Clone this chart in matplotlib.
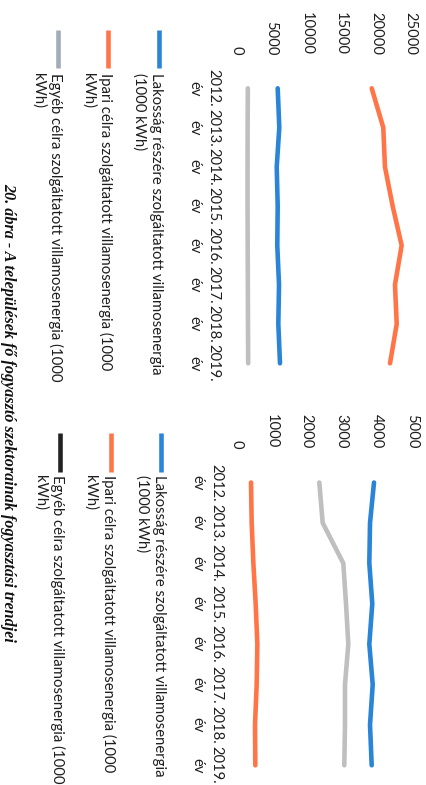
import matplotlib
matplotlib.use("Agg")
import matplotlib.pyplot as plt
from matplotlib.lines import Line2D

years = ["2012.", "2013.", "2014.", "2015.", "2016.", "2017.", "2018.", "2019."]

# települések összesen (1000 kWh)
lakossag_1 = [5890, 6120, 5750, 5890, 5830, 6080, 5980, 6220]
ipari_1 = [19400, 21060, 21300, 22410, 23700, 22740, 22990, 22030]
egyeb_1 = [1600, 1570, 1560, 1560, 1580, 1600, 1620, 1650]

# második település (1000 kWh)
lakossag_2 = [3923, 3809, 3789, 3874, 3789, 3886, 3809, 3857]
ipari_2 = [409, 428, 476, 542, 590, 571, 523, 532]
egyeb_2 = [2360, 2457, 3046, 3123, 3189, 3094, 3094, 3074]

legend_labels = [
    "Lakosság részére szolgáltatott villamosenergia\n(1000 kWh)",
    "Ipari célra szolgáltatott villamosenergia (1000\nkWh)",
    "Egyéb célra szolgáltatott villamosenergia (1000\nkWh)",
]
caption = "20. ábra - A települések fő fogyasztó szektorainak fogyasztási trendjei"

BLUE = "#2a84d8"
ORANGE = "#ff7548"
GRAY = "#bfbfbf"
TEXT = "#1e1e1e"
W, H = 427, 785
LW = 3.3
TICK_FS = 10.6

fig = plt.figure(figsize=(W / 100, H / 100), dpi=100)


def fx(px):
    return px / W


def fy(py):
    return 1 - py / H


def rotated_chart(rect_px, vmax, step, series, tick_pad, year_pad):
    # the chart is drawn turned a quarter clockwise: values run left to right,
    # years run top to bottom, every text reads downwards
    x0, x1, y0, y1 = rect_px
    ax = fig.add_axes([fx(x0), fy(y1), fx(x1) - fx(x0), fy(y0) - fy(y1)])
    idx = list(range(len(years)))
    for values, color in series:
        ax.plot(values, idx, color=color, lw=LW, solid_capstyle="round",
                solid_joinstyle="round", clip_on=False)
    ax.set_xlim(0, vmax)
    ax.set_ylim(len(years) - 0.5, -0.5)
    ax.set_xticks(range(0, vmax + 1, step))
    ax.xaxis.set_ticks_position("top")
    ax.tick_params(axis="x", length=0, labelrotation=270, pad=tick_pad,
                   labelsize=TICK_FS, labelcolor=TEXT)
    ax.set_yticks(idx)
    ax.set_yticklabels([f"{y}\név" for y in years])
    ax.tick_params(axis="y", length=0, labelrotation=270, pad=year_pad,
                   labelsize=TICK_FS, labelcolor=TEXT)
    for lbl in ax.get_yticklabels():
        lbl.set_va("center")
        lbl.set_multialignment("center")
        lbl.set_linespacing(1.45)
    for s in ax.spines.values():
        s.set_visible(False)
    ax.set_facecolor("none")
    return ax


def rotated_legend(handle_xs, y_top, y_bot, colors, text_y):
    for x, c, lab in zip(handle_xs, colors, legend_labels):
        fig.add_artist(Line2D([fx(x), fx(x)], [fy(y_top), fy(y_bot)],
                              transform=fig.transFigure, color=c, lw=LW,
                              solid_capstyle="butt"))
        fig.text(fx(x + 5), fy(text_y), lab, rotation=270, rotation_mode="anchor",
                 ha="left", va="top", fontsize=10.7, color=TEXT, linespacing=1.27)


plt.rcParams["font.family"] = ["Lato", "DejaVu Sans"]

rotated_chart((236.7, 410.7, 68.65, 382.95), 25000, 5000,
              [(lakossag_1, BLUE), (ipari_1, ORANGE), (egyeb_1, GRAY)],
              tick_pad=9.8, year_pad=11.7)
rotated_legend([158.5, 108.3, 58.3], 30, 68, [BLUE, ORANGE, "#a3abb8"], 73)

rotated_chart((236.7, 411.7, 462.3, 785.5), 5000, 1000,
              [(lakossag_2, BLUE), (ipari_2, ORANGE), (egyeb_2, GRAY)],
              tick_pad=10.2, year_pad=9.9)
rotated_legend([161.5, 110.7, 60.5], 433, 472, [BLUE, ORANGE, "#222222"], 475)

fig.text(fx(4.5), fy(183), caption, rotation=270, rotation_mode="anchor",
         ha="left", va="baseline", fontsize=11.6, fontstyle="italic",
         fontweight="bold", family="Liberation Serif", color="#111111")

fig.savefig("out.png", dpi=100)
